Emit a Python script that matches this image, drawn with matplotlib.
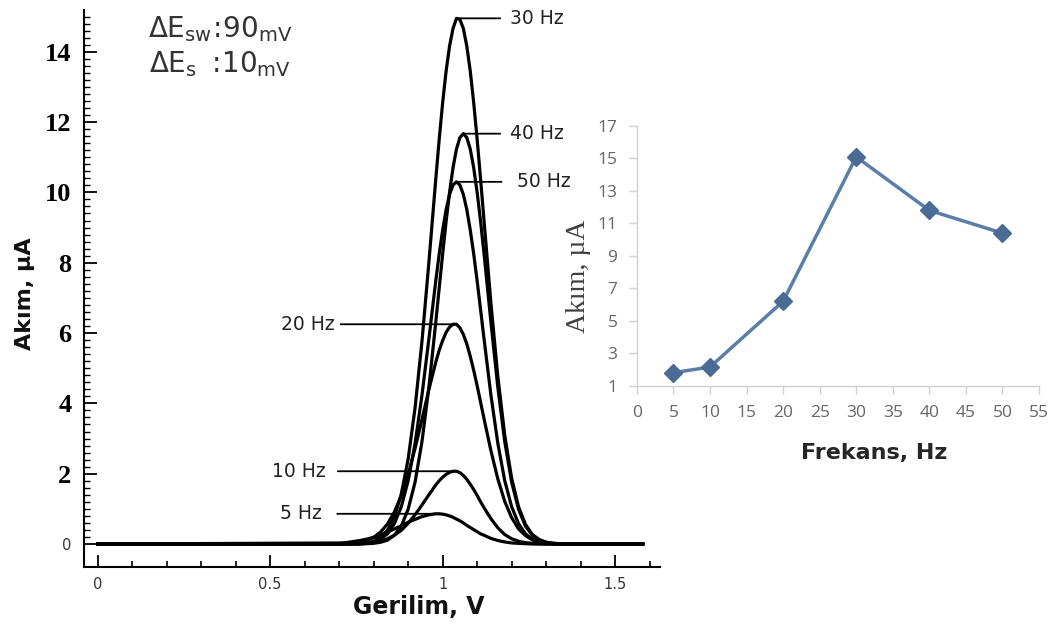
import numpy as np
import matplotlib
matplotlib.use("Agg")
import matplotlib.pyplot as plt
from matplotlib.ticker import FixedLocator

# voltammograms (Gerilim in V, Akim in uA)
volt = [0.0, 0.70, 0.72, 0.74, 0.76, 0.78, 0.80, 0.82, 0.84, 0.86, 0.88, 0.90,
        0.92, 0.94, 0.96, 0.98, 0.99, 1.00, 1.01, 1.02, 1.03, 1.04, 1.05, 1.06,
        1.07, 1.08, 1.09, 1.10, 1.11, 1.12, 1.14, 1.16, 1.18, 1.20, 1.22, 1.24,
        1.26, 1.28, 1.30, 1.32, 1.34, 1.58]

cur_5 = [0, 0.03, 0.04, 0.07, 0.10, 0.14, 0.19, 0.26, 0.34, 0.43, 0.52, 0.62,
         0.70, 0.78, 0.83, 0.86, 0.86, 0.85, 0.83, 0.80, 0.76, 0.71, 0.66, 0.60,
         0.53, 0.47, 0.41, 0.35, 0.29, 0.25, 0.16, 0.10, 0.06, 0.03, 0.02, 0.01,
         0.00, 0.00, 0.00, 0.00, 0.00, 0]
cur_10 = [0, 0.00, 0.00, 0.01, 0.01, 0.02, 0.05, 0.08, 0.15, 0.25, 0.39, 0.59,
          0.83, 1.11, 1.40, 1.68, 1.80, 1.90, 1.98, 2.04, 2.07, 2.07, 2.03, 1.95,
          1.84, 1.70, 1.55, 1.38, 1.20, 1.03, 0.72, 0.46, 0.27, 0.15, 0.08, 0.04,
          0.02, 0.01, 0.00, 0.00, 0.00, 0]
cur_20 = [0, 0.01, 0.01, 0.03, 0.05, 0.10, 0.19, 0.34, 0.57, 0.91, 1.37, 1.98,
          2.72, 3.54, 4.39, 5.17, 5.51, 5.79, 6.02, 6.17, 6.25, 6.25, 6.15, 5.96,
          5.69, 5.34, 4.94, 4.50, 4.03, 3.56, 2.65, 1.85, 1.21, 0.75, 0.43, 0.24,
          0.12, 0.06, 0.03, 0.01, 0.00, 0]
cur_30 = [0, 0.00, 0.00, 0.01, 0.01, 0.03, 0.08, 0.19, 0.39, 0.77, 1.42, 2.42,
          3.87, 5.76, 8.00, 10.37, 11.51, 12.55, 13.45, 14.16, 14.66, 14.95, 14.92, 14.66,
          14.16, 13.45, 12.55, 11.51, 10.37, 9.19, 6.84, 4.76, 3.09, 1.87, 1.06, 0.56,
          0.27, 0.13, 0.05, 0.02, 0.01, 0]
cur_40 = [0, 0.00, 0.00, 0.00, 0.00, 0.01, 0.02, 0.05, 0.11, 0.25, 0.51, 0.99,
          1.76, 2.91, 4.45, 6.30, 7.28, 8.25, 9.17, 10.00, 10.70, 11.23, 11.56, 11.67,
          11.56, 11.23, 10.70, 10.00, 9.17, 8.25, 6.30, 4.45, 2.91, 1.76, 0.99, 0.51,
          0.25, 0.11, 0.05, 0.02, 0.01, 0]
cur_50 = [0, 0.00, 0.00, 0.00, 0.01, 0.03, 0.06, 0.14, 0.29, 0.58, 1.06, 1.80,
          2.86, 4.23, 5.83, 7.48, 8.25, 8.93, 9.51, 9.94, 10.21, 10.30, 10.21, 9.94,
          9.51, 8.93, 8.25, 7.48, 6.66, 5.83, 4.23, 2.86, 1.80, 1.06, 0.58, 0.29,
          0.14, 0.06, 0.03, 0.01, 0.00, 0]

curves = [('5 Hz', cur_5), ('10 Hz', cur_10), ('20 Hz', cur_20),
          ('30 Hz', cur_30), ('40 Hz', cur_40), ('50 Hz', cur_50)]

# peak current vs frequency (inset)
freq = [5, 10, 20, 30, 40, 50]
peak_cur = [1.8, 2.15, 6.2, 15.1, 11.8, 10.4]

# where each frequency label sits: (text x in V, side, gap in pt)
label_place = {'5 Hz': (0.65, 'right', 9), '10 Hz': (0.66, 'right', 7),
               '20 Hz': (0.688, 'right', 2), '30 Hz': (1.195, 'left', 5),
               '40 Hz': (1.195, 'left', 5), '50 Hz': (1.215, 'left', 9)}

fig = plt.figure(figsize=(10.58, 6.26), dpi=100)
ax = fig.add_axes([0.0794, 0.0942, 0.5444, 0.890])

for name, cur in curves:
    ax.plot(volt, cur, color='black', lw=2.3, solid_joinstyle='round')

for name, cur in curves:
    i = int(np.argmax(cur))
    tx, side, gap = label_place[name]
    ax.annotate(name, xy=(volt[i], cur[i]), xytext=(tx, cur[i]),
                ha=side, va='center', fontsize=13.5, color='#222222',
                arrowprops=dict(arrowstyle='-', lw=1.3, color='black',
                                shrinkA=gap, shrinkB=0))

ax.set_xlim(-0.0397, 1.63)
ax.set_ylim(-0.654, 15.19)
for s in ['top', 'right']:
    ax.spines[s].set_visible(False)
for s in ['left', 'bottom']:
    ax.spines[s].set_linewidth(1.5)

ax.set_xticks([0, 0.5, 1, 1.5], labels=['0', '0.5', '1', '1.5'])
ax.xaxis.set_minor_locator(FixedLocator(np.arange(0, 1.65, 0.1)))
ax.tick_params(axis='x', which='major', direction='in', length=9, width=1.3,
               pad=7, labelsize=10.5, labelcolor='#333333')
ax.tick_params(axis='x', which='minor', direction='in', length=4.5, width=1.2)

ax.set_yticks(range(0, 15, 2), labels=[str(v) for v in range(0, 15, 2)])
ax.yaxis.set_minor_locator(FixedLocator(np.arange(0, 15.25, 0.2)))
ax.tick_params(axis='y', which='major', direction='in', length=9, width=1.3, pad=9)
ax.tick_params(axis='y', which='minor', direction='in', length=4.5, width=1.0)
for lab in ax.get_yticklabels():
    lab.set_fontfamily('Liberation Serif')
    lab.set_fontweight('bold')
    lab.set_fontsize(19)
zero = ax.get_yticklabels()[0]
zero.set_fontfamily('DejaVu Sans')
zero.set_fontweight('normal')
zero.set_fontsize(10.5)
zero.set_color('#333333')

ax.set_xlabel('Gerilim, V', fontsize=17, fontweight='bold', color='#111111')
ax.xaxis.set_label_coords(0.582, -0.05)
ax.set_ylabel('Akım, µA', fontsize=16, fontweight='bold', color='#111111')
ax.yaxis.label.set_va('center')
ax.yaxis.set_label_coords(-0.102, 0.49)

ax.text(0.236, 0.966, r'$\mathregular{\Delta E_{sw}\!:\!90_{mV}}$', transform=ax.transAxes,
        ha='center', va='center', fontsize=20, color='#333333')
ax.text(0.236, 0.903, r'$\mathregular{\Delta E_{s}\ :\!10_{mV}}$', transform=ax.transAxes,
        ha='center', va='center', fontsize=20, color='#333333')

# inset: peak current vs frequency
ins = fig.add_axes([0.602, 0.3839, 0.380, 0.4148])
ins.patch.set_alpha(0)
ins.plot(freq, peak_cur, color='#5a7ea8', lw=2.5, marker='D', ms=9,
         markerfacecolor='#4a6c94', markeredgecolor='#4a6c94')
ins.set_xlim(0, 55)
ins.set_ylim(1, 17)
ins.set_xticks(range(0, 56, 5))
ins.set_yticks(range(1, 18, 2))
for s in ['top', 'right']:
    ins.spines[s].set_visible(False)
for s in ['left', 'bottom']:
    ins.spines[s].set_color('#d0d0d0')
    ins.spines[s].set_linewidth(1.0)
ins.tick_params(direction='out', length=6, width=1.0, color='#d0d0d0',
                labelsize=12.5, labelcolor='#666666', pad=8)
for lab in ins.get_xticklabels() + ins.get_yticklabels():
    lab.set_fontfamily('Open Sans')
ins.set_xlabel('Frekans, Hz', fontsize=16, fontweight='bold', color='#262626')
ins.xaxis.set_label_coords(0.59, -0.22)
ins.set_ylabel('Akım, µA', fontsize=20, fontfamily='Liberation Serif', color='#404040')
ins.yaxis.label.set_va('center')
ins.yaxis.set_label_coords(-0.145, 0.42)

fig.savefig('out.png', dpi=100)
